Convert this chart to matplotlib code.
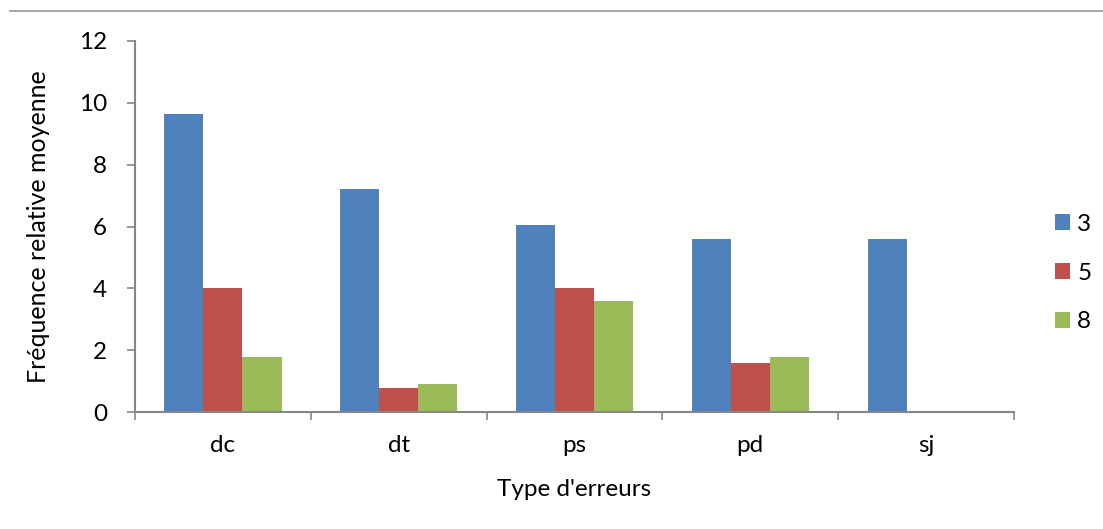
import matplotlib
matplotlib.use("Agg")
import matplotlib.pyplot as plt
from matplotlib.patches import Patch
from matplotlib.lines import Line2D
import numpy as np

categories = ["dc", "dt", "ps", "pd", "sj"]
series_names = ["3", "5", "8"]
values_3 = [9.62, 7.2, 6.04, 5.6, 5.6]
values_5 = [4.0, 0.8, 4.0, 1.6, 0.0]
values_8 = [1.8, 0.9, 3.6, 1.8, 0.0]
colors = ["#4F81BD", "#C0504D", "#9BBB59"]
yticks = [0, 2, 4, 6, 8, 10, 12]

plt.rcParams['font.family'] = ['Lato', 'DejaVu Sans']
fs = 17.5

fig = plt.figure(figsize=(11.03, 5.29), dpi=100)
ax = fig.add_axes([135/1103, 1 - 412.3/529, (1014-135)/1103, (412.3-40.7)/529])

x = np.arange(len(categories))
w = 1/4.5
all_vals = [values_3, values_5, values_8]
for i, (vals, c) in enumerate(zip(all_vals, colors)):
    ax.bar(x + (i-1)*w, vals, width=w, color=c, linewidth=0, zorder=2)

axis_col = "#868686"
ax.set_xlim(-0.5, len(categories)-0.5)
ax.set_ylim(0, 12)
ax.set_yticks(yticks)
ax.set_yticklabels([str(t) for t in yticks], fontsize=fs)
ax.set_xticks(x)
ax.set_xticklabels(categories, fontsize=fs)
ax.set_xticks(np.arange(len(categories)+1) - 0.5, minor=True)
ax.tick_params(axis='x', which='major', length=0, pad=16)
ax.tick_params(axis='x', which='minor', length=6, width=1.2, color=axis_col, direction='out')
ax.tick_params(axis='y', length=6, width=1.2, color=axis_col, direction='out', pad=14)
for s in ['top', 'right']:
    ax.spines[s].set_visible(False)
for s in ['left', 'bottom']:
    ax.spines[s].set_color(axis_col)
    ax.spines[s].set_linewidth(1.5)

ax.set_ylabel("Fréquence relative moyenne", fontsize=18, labelpad=21)
ax.set_xlabel("Type d'erreurs", fontsize=fs, labelpad=17)

# top border line
fig.add_artist(Line2D([10/1103, 1.0], [1 - 10.5/529, 1 - 10.5/529], color="#A0A0A0", linewidth=1.3))

handles = [Patch(facecolor=c, edgecolor='none') for c in colors]
fig.legend(handles, series_names, loc='center left', bbox_to_anchor=(1055/1103, 1 - 273/529),
           frameon=False, fontsize=fs, handlelength=0.62, handleheight=0.62,
           handletextpad=0.3, labelspacing=1.15, borderpad=0, borderaxespad=0)

fig.savefig("out.png", dpi=100)
